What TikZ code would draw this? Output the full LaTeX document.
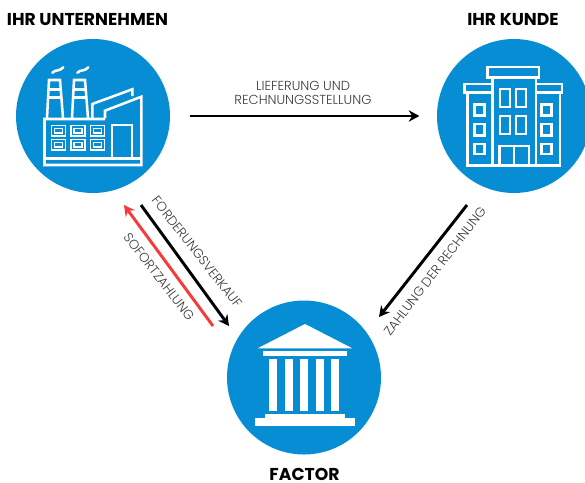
\documentclass[tikz,border=0pt]{standalone}
\usepackage{fontspec}
\setmainfont{Poppins}
\newfontfamily\lightfont{Poppins Light}
\usetikzlibrary{arrows.meta}
\definecolor{hubblue}{RGB}{7,141,212}
\definecolor{payred}{RGB}{246,58,58}
\definecolor{labelgrey}{RGB}{60,60,60}
\tikzset{
    hub/.style={circle,fill=hubblue,minimum size=115.5pt,inner sep=0pt},
    icon/.style={white,line width=1.9pt,line join=miter},
    thinicon/.style={white,line width=1.2pt},
    solid white/.style={fill=white,draw=none},
    title/.style={font=\bfseries\fontsize{12.9}{14}\selectfont,text=black,inner sep=0pt},
    flowlabel/.style={font=\lightfont\fontsize{9.8}{10.1}\selectfont,text=labelgrey,inner sep=0pt,align=center},
    flow/.style={line width=2.2pt,-{Stealth[length=8pt,width=8.5pt]}}
}
\begin{document}
\begin{tikzpicture}[x=0.75pt,y=-0.75pt]
    \useasboundingbox (0,0) rectangle (585,482);
    \node[hub] (firm) at (93,116) {};
    \node[hub] (kunde) at (514,116) {};
    \node[hub] (factor) at (304,377.5) {};
    \node[title] (firmname) at (87.5,20) {IHR UNTERNEHMEN};
    \node[title] (kundename) at (513,20) {IHR KUNDE};
    \node[title] (factorname) at (304.5,474.5) {FACTOR};
    \coordinate (verkaufa) at (141,205);
    \coordinate (verkaufb) at (229,326);
    \coordinate (soforta) at (213,326);
    \coordinate (sofortb) at (124,205);
    \coordinate (zahlunga) at (467,205);
    \coordinate (zahlungb) at (379,317);
    \draw[flow,shorten <=14.5pt,shorten >=13pt] (firm) -- (kunde);
    \draw[flow] (verkaufa) -- (verkaufb);
    \draw[flow,payred] (soforta) -- (sofortb);
    \draw[flow] (zahlunga) -- (zahlungb);
    \node[flowlabel] (liefer) at (303,93) {LIEFERUNG UND\\RECHNUNGSSTELLUNG};
    \node[flowlabel,rotate=-52] (verkauf) at (197,252) {FORDERUNGSVERKAUF};
    \node[flowlabel,rotate=-52.5] (sofort) at (159,277) {SOFORTZAHLUNG};
    \node[flowlabel,rotate=52.5] (zahlung) at (435,271) {ZAHLUNG DER RECHNUNG};
    \draw[icon] (92.3,118) -- (92.3,104) -- (132.3,89.3) -- (132.3,96);
    \draw[icon] (105,118) -- (105,110.7) -- (141.3,96.7) -- (141.3,165) -- (44.5,165) -- (44.5,119) -- (105,119);
    \draw[icon] (44.5,158.3) -- (141.3,158.3);
    \draw[icon] (112,158.3) -- (112,125) -- (132,125) -- (132,158.3);
    \draw[icon] (47,118) -- (49,80) -- (60,80) -- (63,118);
    \draw[icon] (72,118) -- (74,80) -- (85,80) -- (88,118);
    \draw[icon] (48,89.3) -- (61,89.3);
    \draw[icon] (47.5,97.7) -- (61.5,97.7);
    \draw[icon] (73,89.3) -- (86,89.3);
    \draw[icon] (72.5,97.7) -- (86.5,97.7);
    \draw[icon,line cap=round] (52.3,72.7) .. controls (56,69) and (59,72) .. (63.3,67.3);
    \draw[icon,line cap=round] (77.3,72.7) .. controls (81,69) and (84,72) .. (88.3,67.3);
    \draw[thinicon] (51.5,125.5) rectangle (65.5,136);
    \draw[thinicon] (71,125.5) rectangle (85,136);
    \draw[thinicon] (90.5,125.5) rectangle (104.5,136);
    \draw[thinicon] (51.5,139.5) rectangle (65.5,150);
    \draw[thinicon] (71,139.5) rectangle (85,150);
    \draw[thinicon] (90.5,139.5) rectangle (104.5,150);
    \draw[thinicon] (54.5,128.5) rectangle (62.5,133);
    \draw[thinicon] (74,128.5) rectangle (82,133);
    \draw[thinicon] (93.5,128.5) rectangle (101.5,133);
    \draw[thinicon] (54.5,142.5) rectangle (62.5,147);
    \draw[thinicon] (74,142.5) rectangle (82,147);
    \draw[thinicon] (93.5,142.5) rectangle (101.5,147);
    \draw[icon] (487.7,67) rectangle (539,77.3);
    \draw[icon] (464.3,84) rectangle (492.7,92.3);
    \draw[icon] (536,84) rectangle (562,92.3);
    \draw[icon] (492.7,77.3) -- (492.7,165.3);
    \draw[icon] (536,77.3) -- (536,165.3);
    \draw[icon] (467.3,92.3) -- (467.3,165.3) -- (560,165.3) -- (560,92.3);
    \draw[icon] (474.5,104.5) rectangle (484.5,115.5);
    \draw[icon] (474.5,124) rectangle (484.5,135.5);
    \draw[icon] (474.5,144) rectangle (484.5,154);
    \draw[icon] (541.5,104.5) rectangle (551.5,115.5);
    \draw[icon] (541.5,124) rectangle (551.5,135.5);
    \draw[icon] (541.5,144) rectangle (551.5,154);
    \draw[icon] (500,89) rectangle (510,107);
    \draw[icon] (516,89) rectangle (526,107);
    \draw[icon] (500,116) rectangle (510,134);
    \draw[icon] (516,116) rectangle (526,134);
    \draw[icon] (499.5,165.3) -- (499.5,146) -- (529,146) -- (529,165.3);
    \draw[icon] (514,146) -- (514,165.3);
    \fill[solid white] (305,324) -- (352.3,348.3) -- (257.7,348.3) -- cycle;
    \fill[solid white] (262.7,351.3) rectangle (347.3,356);
    \fill[solid white] (269.3,359) rectangle (277.3,410.7);
    \fill[solid white] (285,359) rectangle (293,410.7);
    \fill[solid white] (300.3,359) rectangle (308.3,410.7);
    \fill[solid white] (315.7,359) rectangle (323.7,410.7);
    \fill[solid white] (331,359) rectangle (339.3,410.7);
    \fill[solid white] (265,414.3) rectangle (345,418.5);
    \fill[solid white] (254.7,418.3) rectangle (355,426);
\end{tikzpicture}
\end{document}
